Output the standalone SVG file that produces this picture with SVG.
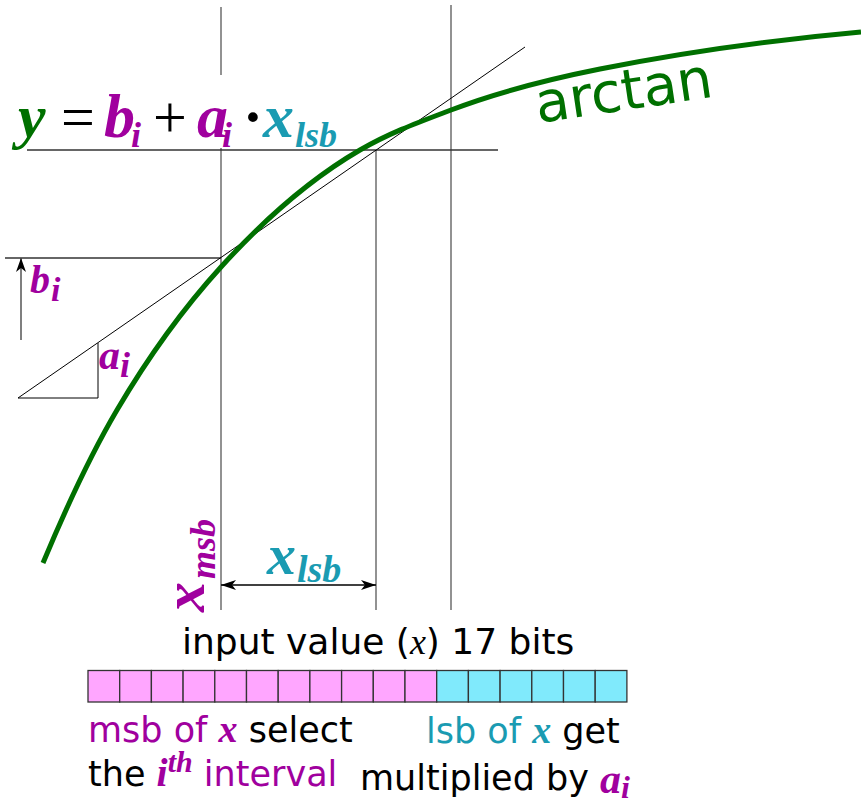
<svg xmlns="http://www.w3.org/2000/svg" width="861" height="803" viewBox="0 0 861 803">
<style>
.guide{stroke:#6e6e6e;stroke-width:1.5;fill:none}
.hline{stroke:#333;stroke-width:1.3;fill:none}
.thin{stroke:#000;stroke-width:1;fill:none}
.curve{stroke:#007000;stroke-width:5;fill:none}
.m{font-family:"Liberation Serif","Times New Roman",serif;font-weight:bold;font-style:italic}
.up{font-family:"Liberation Serif","Times New Roman",serif;font-weight:normal;font-style:normal}
.it{font-family:"Liberation Serif","Times New Roman",serif;font-weight:normal;font-style:italic}
.s{font-family:"DejaVu Sans",Verdana,sans-serif}
.pur{fill:#a0009e}
.teal{fill:#1a9bb2}
.grn{fill:#007000}
.blk{fill:#000}
.cp{fill:#ffa6ff;stroke:#333;stroke-width:1.3}
.cc{fill:#80eafc;stroke:#333;stroke-width:1.3}
</style>
<defs>
<marker id="ah" viewBox="0 0 15 10" refX="15" refY="5" markerWidth="15" markerHeight="10" markerUnits="userSpaceOnUse" orient="auto-start-reverse"><path d="M0,0 L15,5 L0,10 L4,5 Z" fill="#000"/></marker>
<marker id="ah2" viewBox="0 0 14 10" refX="14" refY="5" markerWidth="14" markerHeight="10" markerUnits="userSpaceOnUse" orient="auto"><path d="M0,0 L14,5 L0,10 L4,5 Z" fill="#000"/></marker>
</defs>

<g id="guides">
<line class="guide" x1="221" y1="7" x2="221" y2="75"/>
<line class="guide" x1="221" y1="148" x2="221" y2="610"/>
<line class="guide" x1="451" y1="5" x2="451" y2="610"/>
<line class="guide" x1="376" y1="150" x2="376" y2="610"/>
<line class="hline" x1="27" y1="150" x2="498" y2="150"/>
<line class="hline" x1="5" y1="258" x2="221" y2="258"/>
</g>

<g id="tangent">
<line class="thin" x1="18" y1="398" x2="525" y2="47"/>
<polyline class="thin" points="18,398 98,398 98,343"/>
</g>

<g id="curve">
<path class="curve" d="M43,563 C67.7,503.8 92.3,451.9 117,410 C151.7,351.1 186.3,305.1 221,267 C267.3,216 313.7,176.9 360,150 C390.3,132.4 420.7,121.5 451,110 C500.7,91.1 550.3,78.9 600,69 C687,51.6 774,39.8 861,32"/>
<text class="s grn" font-size="56" transform="translate(538,123) rotate(-8.5)">arctan</text>
</g>

<g id="connectors">
<line x1="21" y1="340" x2="21" y2="258" stroke="#555" stroke-width="1.5" marker-end="url(#ah2)"/>
<line x1="221" y1="585" x2="376" y2="585" stroke="#000" stroke-width="1.3" marker-start="url(#ah)" marker-end="url(#ah)"/>
</g>

<g id="equation">
<text class="m grn" font-size="62" x="18" y="137">y</text>
<text class="up blk" font-size="60" x="61" y="137">=</text>
<text class="m pur" font-size="62" x="104" y="137">b</text>
<text class="m pur" font-size="36" x="131" y="147">i</text>
<text class="up blk" font-size="60" x="153" y="137">+</text>
<text class="m pur" font-size="62" x="197" y="137">a</text>
<text class="m pur" font-size="36" x="222" y="147">i</text>
<text class="m blk" font-size="60" x="245" y="137">·</text>
<text class="m teal" font-size="62" x="263" y="137">x</text>
<text class="m teal" font-size="36" x="295" y="147">lsb</text>
</g>

<g id="label-bi">
<text class="m pur" font-size="40" x="30" y="293">b</text>
<text class="m pur" font-size="34" x="51" y="301">i</text>
</g>

<g id="label-ai">
<text class="m pur" font-size="42" x="99" y="369">a</text>
<text class="m pur" font-size="36" x="120" y="377">i</text>
</g>

<g id="label-xmsb">
<text class="m pur" transform="translate(204,612) rotate(-90)"><tspan font-size="60" x="0" y="0">x</tspan><tspan font-size="36" x="33" y="11">msb</tspan></text>
</g>

<g id="label-xlsb">
<text class="m teal" font-size="58" x="267" y="574">x</text>
<text class="m teal" font-size="38" x="297" y="582">lsb</text>
</g>

<g id="bits">
<text class="s blk" font-size="36" x="182" y="654">input value (<tspan class="it">x</tspan>) 17 bits</text>
<rect class="cp" x="88" y="670.5" width="31.7" height="31.5"/>
<rect class="cp" x="119.7" y="670.5" width="31.7" height="31.5"/>
<rect class="cp" x="151.4" y="670.5" width="31.7" height="31.5"/>
<rect class="cp" x="183.1" y="670.5" width="31.7" height="31.5"/>
<rect class="cp" x="214.8" y="670.5" width="31.7" height="31.5"/>
<rect class="cp" x="246.5" y="670.5" width="31.7" height="31.5"/>
<rect class="cp" x="278.2" y="670.5" width="31.7" height="31.5"/>
<rect class="cp" x="309.9" y="670.5" width="31.7" height="31.5"/>
<rect class="cp" x="341.6" y="670.5" width="31.7" height="31.5"/>
<rect class="cp" x="373.3" y="670.5" width="31.7" height="31.5"/>
<rect class="cp" x="405" y="670.5" width="31.7" height="31.5"/>
<rect class="cc" x="436.7" y="670.5" width="31.7" height="31.5"/>
<rect class="cc" x="468.4" y="670.5" width="31.7" height="31.5"/>
<rect class="cc" x="500.1" y="670.5" width="31.7" height="31.5"/>
<rect class="cc" x="531.8" y="670.5" width="31.7" height="31.5"/>
<rect class="cc" x="563.5" y="670.5" width="31.7" height="31.5"/>
<rect class="cc" x="595.2" y="670.5" width="31.7" height="31.5"/>
</g>

<g id="captions">
<text class="s pur" font-size="35" x="88" y="742">msb of <tspan class="m" font-size="38">x</tspan><tspan class="blk"> select</tspan></text>
<text class="s blk" font-size="35" x="88" y="786">the <tspan class="m pur" font-size="40">i</tspan><tspan class="m pur" font-size="30" dy="-14">th</tspan><tspan class="pur" dy="14"> interval</tspan></text>
<text class="s teal" font-size="35" x="426" y="743">lsb of <tspan class="m" font-size="38">x</tspan><tspan class="blk"> get</tspan></text>
<text class="s blk" font-size="35" x="360" y="790">multiplied by <tspan class="m pur" font-size="42" dy="3">a</tspan><tspan class="m pur" font-size="32" dy="5">i</tspan></text>
</g>
</svg>
